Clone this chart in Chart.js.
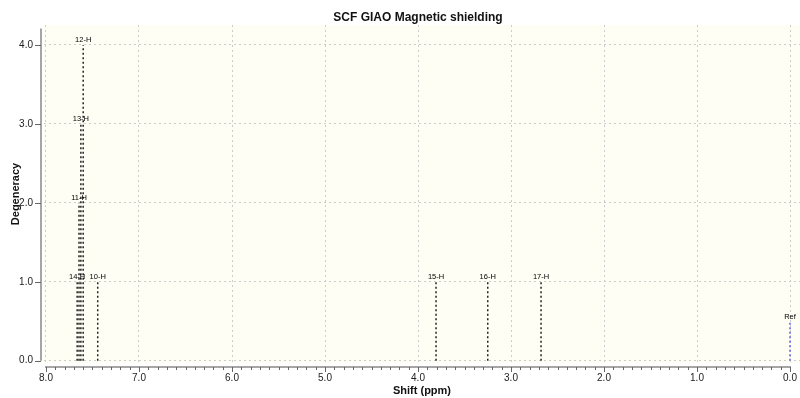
<!DOCTYPE html>
<html>
<head>
<meta charset="utf-8">
<script src="https://cdn.jsdelivr.net/npm/chart.js@4/dist/chart.umd.min.js"></script>
<style>
  html, body { margin: 0; padding: 0; background: #fff; }
  canvas { display: block; }
</style>
</head>
<body>
<canvas id="chart" width="800" height="398"></canvas>
<script>
// Peak data
const atomLabels = ['10-H', '14-H', '11-H', '13-H', '12-H', '15-H', '16-H', '17-H'];
const shifts = [7.444, 7.665, 7.645, 7.625, 7.600, 3.806, 3.250, 2.677];
const degeneracy = [1, 1, 2, 3, 4, 1, 1, 1];

const refLabels = ['Ref'];
const refShifts = [0.0];
const refHeights = [0.5];

const xTicks = [0, 1, 2, 3, 4, 5, 6, 7, 8];
const yTicks = [0, 1, 2, 3, 4];

const FONT = '"Liberation Sans", Arial, Helvetica, sans-serif';

// Turn each peak into a vertical stick, gaps between sticks
function sticks(xs, hs) {
    let pts = [];
    xs.forEach((x, i) => {
        pts.push({ x: x, y: 0 });
        pts.push({ x: x, y: hs[i] });
        pts.push({ x: x, y: null });
    });
    return pts;
}

const decorPlugin = {
    id: 'decor',
    beforeDraw(chart) {
        const { ctx, chartArea } = chart;
        ctx.save();
        ctx.fillStyle = '#fefef4';
        ctx.fillRect(chartArea.left, chartArea.top, chartArea.right - chartArea.left, chartArea.bottom - chartArea.top);
        ctx.restore();
    },
    afterDraw(chart) {
        const { ctx, chartArea } = chart;
        const xs = chart.scales.x;
        const ys = chart.scales.y;
        ctx.save();

        // detached axis lines
        ctx.strokeStyle = '#888';
        ctx.lineWidth = 1.5;
        const axisY = chartArea.bottom + 4;
        const axisX = chartArea.left - 3;
        ctx.beginPath();
        ctx.moveTo(xs.getPixelForValue(8) - 1, axisY);
        ctx.lineTo(xs.getPixelForValue(0) + 1, axisY);
        ctx.moveTo(axisX, ys.getPixelForValue(4.21));
        ctx.lineTo(axisX, ys.getPixelForValue(0));
        ctx.stroke();

        // x ticks, minor every 0.1
        ctx.lineWidth = 1;
        ctx.strokeStyle = '#666';
        ctx.beginPath();
        for (let i = 0; i <= 80; i++) {
            const px = Math.round(xs.getPixelForValue(i / 10)) + 0.5;
            const len = i % 10 === 0 ? 5 : 3;
            ctx.moveTo(px, axisY);
            ctx.lineTo(px, axisY + len);
        }
        // y ticks
        yTicks.forEach(v => {
            const py = Math.round(ys.getPixelForValue(v)) + 0.5;
            ctx.moveTo(axisX - 6, py);
            ctx.lineTo(axisX, py);
        });
        ctx.stroke();

        // peak labels
        ctx.fillStyle = '#000';
        ctx.font = '7.5px ' + FONT;
        ctx.textAlign = 'center';
        ctx.textBaseline = 'bottom';
        atomLabels.forEach((t, i) => {
            ctx.fillText(t, xs.getPixelForValue(shifts[i]), ys.getPixelForValue(degeneracy[i]) - 1);
        });
        refLabels.forEach((t, i) => {
            ctx.fillText(t, xs.getPixelForValue(refShifts[i]), ys.getPixelForValue(refHeights[i]) - 1);
        });

        // title
        ctx.font = 'bold 12px ' + FONT;
        ctx.textBaseline = 'middle';
        ctx.fillStyle = '#111';
        ctx.fillText('SCF GIAO Magnetic shielding', (chartArea.left + chartArea.right) / 2 - 4, 18);
        ctx.restore();
    }
};

const chart = new Chart(document.getElementById('chart').getContext('2d'), {
    type: 'line',
    data: {
        datasets: [
            {
                label: 'H',
                data: sticks(shifts, degeneracy),
                borderColor: '#222',
                borderWidth: 1.5,
                borderDash: [2, 2.5],
                pointRadius: 0,
                spanGaps: false,
            },
            {
                label: 'Ref',
                data: sticks(refShifts, refHeights),
                borderColor: '#5b5bf0',
                borderWidth: 1.5,
                borderDash: [2, 2.5],
                pointRadius: 0,
                spanGaps: false,
            },
        ],
    },
    options: {
        responsive: false,
        animation: false,
        devicePixelRatio: 1,
        layout: { padding: { top: 25, left: 0, right: 0, bottom: 0 } },
        plugins: {
            legend: { display: false },
            tooltip: { enabled: false },
            title: { display: false },
        },
        scales: {
            x: {
                type: 'linear',
                reverse: true,
                min: -0.1075,
                max: 8.0215,
                afterFit(scale) { scale.height = 35; },
                afterBuildTicks(scale) { scale.ticks = xTicks.map(v => ({ value: v })); },
                border: { display: false, dash: [2, 3] },
                grid: { color: '#cccccc', drawTicks: false, lineWidth: 1 },
                ticks: {
                    padding: 9,
                    color: '#222',
                    font: { family: FONT, size: 10 },
                    callback: v => v.toFixed(1),
                },
                title: {
                    display: true,
                    text: 'Shift (ppm)',
                    color: '#111',
                    font: { family: FONT, size: 11, weight: 'bold' },
                    padding: { top: 0, bottom: 0 },
                },
            },
            y: {
                type: 'linear',
                min: -0.029,
                max: 4.253,
                afterFit(scale) { scale.width = 44; },
                afterBuildTicks(scale) { scale.ticks = yTicks.map(v => ({ value: v })); },
                border: { display: false, dash: [2, 3] },
                grid: { color: '#cccccc', drawTicks: false, lineWidth: 1 },
                ticks: {
                    padding: 11,
                    color: '#222',
                    font: { family: FONT, size: 10 },
                    callback: v => v.toFixed(1),
                },
                title: {
                    display: true,
                    text: 'Degeneracy',
                    color: '#111',
                    font: { family: FONT, size: 11, weight: 'bold' },
                    padding: { top: 9, bottom: 0 },
                },
            },
        },
    },
    plugins: [decorPlugin],
});
</script>
</body>
</html>
